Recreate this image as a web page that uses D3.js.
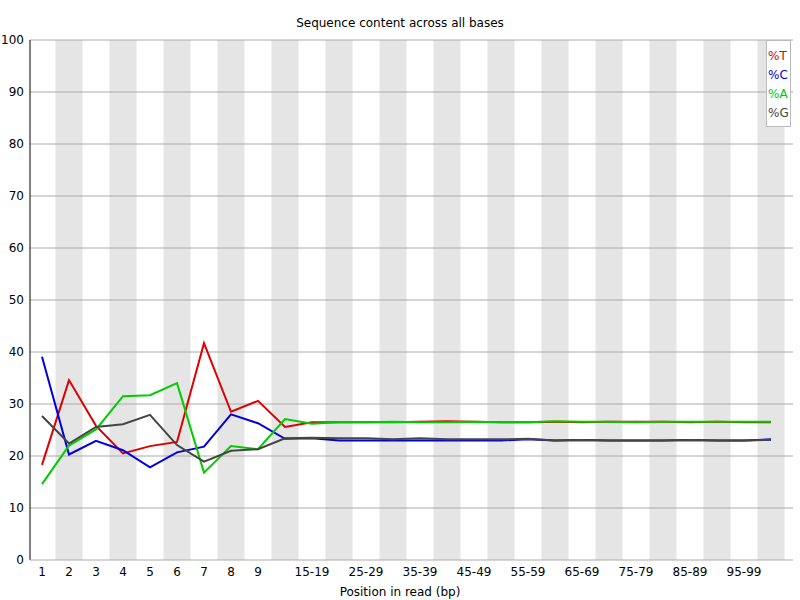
<!DOCTYPE html>
<html><head><meta charset="utf-8">
<script src="https://cdn.jsdelivr.net/npm/d3@7"></script>
<style>body{margin:0;background:#fff}text{font-family:"DejaVu Sans",sans-serif}</style>
</head><body><svg id="c" width="800" height="600"></svg>
<script>
const categories=["1","2","3","4","5","6","7","8","9","10-14","15-19","20-24","25-29","30-34","35-39","40-44","45-49","50-54","55-59","60-64","65-69","70-74","75-79","80-84","85-89","90-94","95-99","100-101"];
const tickLabels=["1","2","3","4","5","6","7","8","9","","15-19","","25-29","","35-39","","45-49","","55-59","","65-69","","75-79","","85-89","","95-99",""];
const pctT=[18.3,34.6,25.8,20.5,21.9,22.7,41.7,28.5,30.6,25.6,26.5,26.5,26.5,26.5,26.6,26.7,26.6,26.5,26.5,26.6,26.5,26.6,26.6,26.6,26.5,26.6,26.5,26.5];
const pctC=[39.1,20.3,22.9,21.1,17.8,20.7,21.8,28.0,26.3,23.3,23.4,23.0,23.0,23.0,23.0,23.0,23.0,23.0,23.2,23.0,23.1,23.0,23.0,23.0,23.1,23.0,23.0,23.2];
const pctA=[14.6,22.0,25.1,31.5,31.7,34.0,16.8,21.9,21.3,27.1,26.2,26.5,26.5,26.6,26.5,26.5,26.6,26.5,26.5,26.7,26.6,26.6,26.5,26.6,26.6,26.6,26.6,26.6];
const pctG=[27.7,22.4,25.6,26.1,27.9,22.1,18.9,21.0,21.3,23.4,23.5,23.4,23.4,23.2,23.4,23.2,23.2,23.2,23.3,23.0,23.1,23.0,23.0,23.0,23.1,23.0,23.0,23.1];
const yTicks=[0,10,20,30,40,50,60,70,80,90,100];
const series=[{name:"%T",v:pctT,c:"#dd0000"},{name:"%C",v:pctC,c:"#0000dd"},{name:"%A",v:pctA,c:"#00cc00"},{name:"%G",v:pctG,c:"#444444"}];

const svg=d3.select("#c");
const L=30,R=793,T=40,B=560;
const x=d3.scaleBand().domain(categories).range([28.5,28.5+27*categories.length]);
const y=d3.scaleLinear().domain([0,100]).range([B,T]);
svg.append("g").selectAll("rect").data(categories.filter((d,i)=>i%2==1)).join("rect")
 .attr("x",d=>x(d)).attr("width",x.bandwidth()).attr("y",T).attr("height",B-T).attr("fill","#e5e5e5");
svg.append("g").selectAll("line").data(yTicks.slice(1)).join("line")
 .attr("x1",L).attr("x2",R).attr("y1",d=>y(d)).attr("y2",d=>y(d)).attr("stroke","#aaaaaa");
svg.append("line").attr("x1",L).attr("x2",L).attr("y1",T).attr("y2",B).attr("stroke","#000");
svg.append("line").attr("x1",L).attr("x2",R).attr("y1",B).attr("y2",B).attr("stroke","#aaaaaa");
svg.append("g").selectAll("text").data(yTicks).join("text")
 .attr("x",24).attr("y",d=>y(d)+4).attr("text-anchor","end").attr("font-size",12).text(d=>d);
svg.append("g").selectAll("text").data(categories).join("text")
 .attr("x",d=>x(d)+x.bandwidth()/2).attr("y",576).attr("text-anchor","middle").attr("font-size",12)
 .text((d,i)=>tickLabels[i]);
svg.append("text").attr("x",400).attr("y",27).attr("text-anchor","middle").attr("font-size",12).text("Sequence content across all bases");
svg.append("text").attr("x",400).attr("y",596).attr("text-anchor","middle").attr("font-size",12).text("Position in read (bp)");
const line=d3.line().x((d,i)=>x(categories[i])+x.bandwidth()/2).y(d=>y(d));
series.forEach(s=>svg.append("path").attr("d",line(s.v)).attr("fill","none").attr("stroke",s.c).attr("stroke-width",2));
const lg=svg.append("g");
lg.append("rect").attr("x",766.5).attr("y",40.5).attr("width",24).attr("height",86).attr("fill","#fff").attr("stroke","#bbb");
series.forEach((s,i)=>lg.append("text").attr("x",768).attr("y",60+i*19).attr("font-size",12).attr("fill",s.c).text(s.name));
</script></body></html>
